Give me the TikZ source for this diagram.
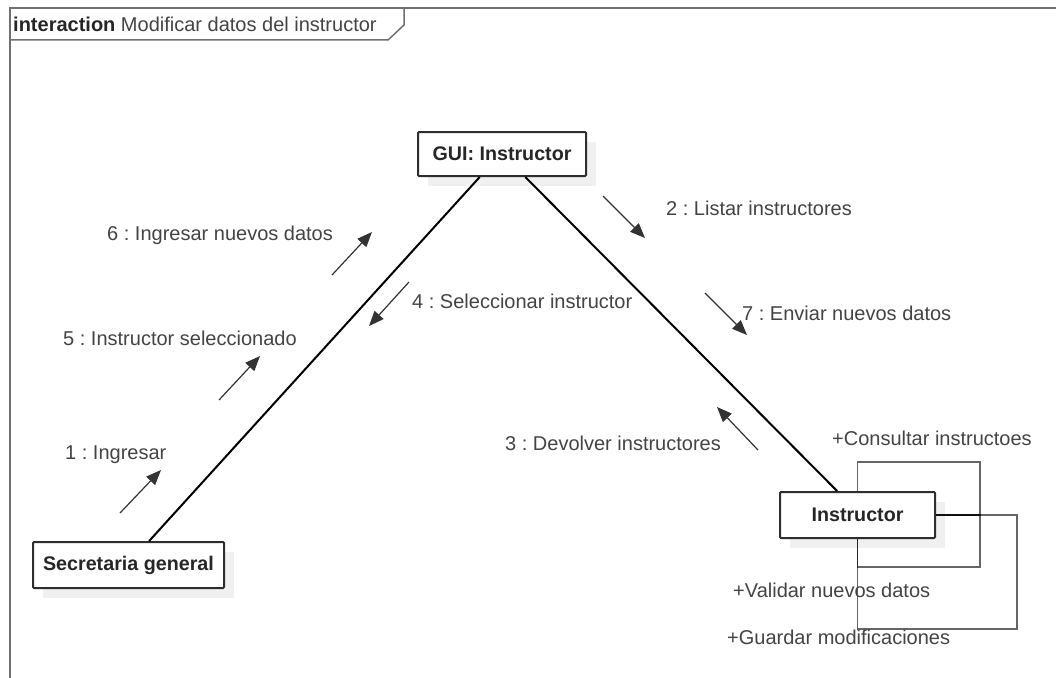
\documentclass[tikz,border=0pt]{standalone}
\usepackage{fontspec}
\setmainfont{Liberation Sans}
\usetikzlibrary{arrows.meta,calc}
\definecolor{txt}{HTML}{444444}
\definecolor{boxline}{HTML}{2E2E2E}
\definecolor{shadowc}{HTML}{F0F0F0}
\definecolor{framec}{HTML}{707070}
\frenchspacing
\begin{document}
\begin{tikzpicture}[x=1pt,y=-1pt,
  lbl/.style={anchor=west,inner sep=0pt,text=txt,font=\fontsize{20}{24}\selectfont},
  obj/.style={draw=boxline,line width=2pt,fill=white,rounded corners=1pt,inner sep=0pt,
    font=\bfseries\fontsize{19.7}{23}\selectfont,text=black!85},
  link/.style={draw=black,line width=2pt},
  msg/.style={draw=black!80,line width=1.2pt,-{Triangle[length=15pt,width=12pt]}},
  loopl/.style={draw=black,draw opacity=0.6,line width=1.6pt}]
\clip (0,0) rectangle (1056,677);
\fill[white] (0,0) rectangle (1056,677);
% frame
\draw[framec,line width=1.5pt] (10,8) rectangle (1080,700);
\draw[framec,line width=1.5pt] (10,40) -- (388,40) -- (404,25) -- (404,8);
\node[anchor=west,inner sep=0pt,text=txt,font=\fontsize{20}{24}\selectfont] (title) at (13,24)
  {{\bfseries\color{black!85}interaction} Modificar datos del instructor};
% shadows
\fill[shadowc] (428,142) rectangle (596,186);
\fill[shadowc] (43,552) rectangle (234,598);
\fill[shadowc] (790,502) rectangle (945,548);
% objects
\node[obj,minimum width=168pt,minimum height=44pt] (gui) at (502,154) {GUI: Instructor};
\node[obj,minimum width=191pt,minimum height=46pt] (sec) at (128.5,565) {Secretaria general};
\node[obj,minimum width=155pt,minimum height=46pt] (ins) at (857.5,515) {Instructor};
% links
\draw[link] ($(sec.north west)!0.607!(sec.north east)$) -- ($(gui.south west)!0.369!(gui.south east)$);
\draw[link] ($(gui.south west)!0.637!(gui.south east)$) -- ($(ins.north west)!0.37!(ins.north east)$);
% self loops
\draw[loopl] (ins.east) -- (980,515) -- (980,462) -- (857.5,462) -- (ins.north);
\draw[loopl] (ins.south) -- (857.5,567) -- (980,567) -- (980,515) -- (ins.east);
\draw[loopl] (ins.east) -- (1017,515) -- (1017,629) -- (857.5,629) -- (ins.south);
% message arrows
\coordinate (a1s) at (120,513); \coordinate (a1e) at (161,470);
\coordinate (a5s) at (219,400); \coordinate (a5e) at (260,356);
\coordinate (a6s) at (332,275); \coordinate (a6e) at (372,232);
\coordinate (a4s) at (409,282); \coordinate (a4e) at (369,326);
\coordinate (a2s) at (603,196); \coordinate (a2e) at (645,238);
\coordinate (a7s) at (705,293); \coordinate (a7e) at (747,335);
\coordinate (a3s) at (758,450); \coordinate (a3e) at (717,407);
\draw[msg] (a1s) -- (a1e);
\draw[msg] (a5s) -- (a5e);
\draw[msg] (a6s) -- (a6e);
\draw[msg] (a4s) -- (a4e);
\draw[msg] (a2s) -- (a2e);
\draw[msg] (a7s) -- (a7e);
\draw[msg] (a3s) -- (a3e);
% labels
\node[lbl] (l1) at (65,455) {1 : Ingresar};
\node[lbl] (l5) at (63,338) {5 : Instructor seleccionado};
\node[lbl] (l6) at (107,235) {6 : Ingresar nuevos datos};
\node[lbl] (l4) at (412,301) {4 : Seleccionar instructor};
\node[lbl] (l2) at (666,208) {2 : Listar instructores};
\node[lbl] (l7) at (742,313) {7 : Enviar nuevos datos};
\node[lbl] (l3) at (505,443) {3 : Devolver instructores};
\node[lbl] (lc) at (832,438) {+Consultar instructoes};
\node[lbl] (lv) at (733,590) {+Validar nuevos datos};
\node[lbl] (lg) at (727,637) {+Guardar modificaciones};
\end{tikzpicture}
\end{document}
